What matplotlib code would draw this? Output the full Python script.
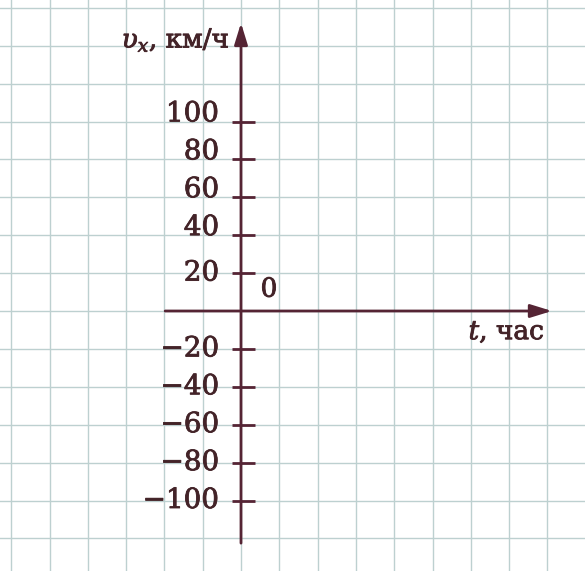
import numpy as np
import matplotlib.pyplot as plt
import matplotlib.patheffects as pe

# velocity axis ticks (km/h) and their labels
v_ticks = [100, 80, 60, 40, 20, -20, -40, -60, -80, -100]
v_labels = ['100', '80', '60', '40', '20', '−20', '−40', '−60', '−80', '−100']
v_axis_label = r'$\upsilon_x$, км/ч'
t_axis_label = r'$t$, час'
origin_label = '0'

# graph paper: one cell = 1 unit in t, 20 km/h in v
grid_t = np.arange(-6, 9)
grid_v = np.arange(-120, 161, 20)

ink = '#552434'
text_col = '#432328'
paper_line = '#bdd0d0'

plt.rcParams['mathtext.fontset'] = 'dejavuserif'
plt.rcParams['font.family'] = 'DejaVu Serif'

fig = plt.figure(figsize=(5.85, 5.71), dpi=100)
ax = fig.add_axes([0, 0, 1, 1])
ax.set_xlim(-241 / 38.3, (585 - 241) / 38.3)
ax.set_ylim(-(571 - 311) / 37.9 * 20, 311 / 37.9 * 20)
for s in ax.spines.values():
    s.set_visible(False)
ax.set_xticks([])
ax.set_yticks([])

for x in grid_t:
    ax.axvline(x, color=paper_line, lw=1.0, zorder=0)
for y in grid_v:
    ax.axhline(y, color=paper_line, lw=1.0, zorder=0)

# axes with arrow heads
arrow = dict(arrowstyle='-|>,head_length=1.3,head_width=0.4', color=ink, lw=2.0,
             shrinkA=0, shrinkB=0)
ax.annotate('', xy=(8.12, 0), xytext=(-1.98, 0), arrowprops=arrow)
ax.annotate('', xy=(0, 152), xytext=(0, -122.5), arrowprops=arrow)

# slightly heavier print for the lettering
heavy = [pe.withStroke(linewidth=0.6, foreground=text_col)]

# tick marks and labels on the velocity axis
for v, lab in zip(v_ticks, v_labels):
    ax.plot([-0.24, 0.37], [v, v], color=ink, lw=2.0, solid_capstyle='butt')
    dy = 4 if v > 20 else 0
    ax.text(-0.57, v + dy, lab, ha='right', va='center', fontsize=20,
            color=text_col, path_effects=heavy)

ax.text(0.73, 11.5, origin_label, ha='center', va='center', fontsize=19,
        color=text_col, path_effects=heavy)
ax.text(-0.3, 139, v_axis_label, ha='right', va='baseline', fontsize=19,
        color=text_col, path_effects=heavy)
ax.text(7.93, -15, t_axis_label, ha='right', va='baseline', fontsize=19,
        color=text_col, path_effects=heavy)

fig.savefig('out.png', dpi=100)
